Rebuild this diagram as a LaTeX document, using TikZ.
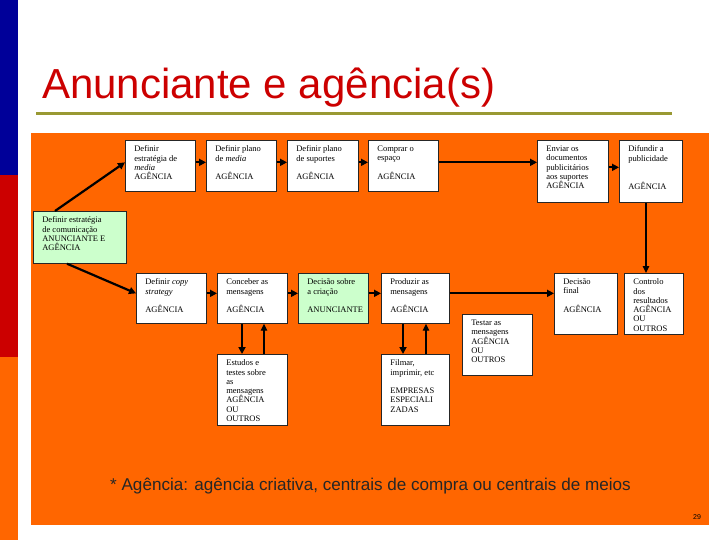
\documentclass[tikz,border=0pt]{standalone}
\usepackage{fontspec}
\setmainfont{Liberation Serif}
\newfontfamily\headfont{Liberation Sans}
\usepackage{tikz}
\usetikzlibrary{arrows.meta, positioning, calc}
\usepackage{xcolor}
\definecolor{slideblue}{RGB}{0,0,153}
\definecolor{slidered}{RGB}{204,0,0}
\definecolor{slideorange}{RGB}{255,102,0}
\definecolor{slideolive}{RGB}{153,153,51}
\definecolor{boxgreen}{RGB}{204,255,204}
\newcommand{\cell}[3]{\parbox[c][#2pt][t]{#1pt}{\raggedright\leftskip=9pt\fontsize{8.5}{9.3}\selectfont\vspace{5.5pt}#3}}

\begin{document}
\begin{tikzpicture}[x=1pt, y=-1pt,
    bx/.style={draw=black!85, fill=white, line width=0.7pt, inner sep=0pt, anchor=north west},
    gbx/.style={bx, fill=boxgreen},
    arr/.style={-{Triangle[length=7pt,width=7pt]}, line width=2.2pt},
    thinarr/.style={-{Triangle[length=7pt,width=6.5pt]}, line width=1.3pt}]
    \useasboundingbox (0,0) rectangle (720,540);
    \fill[white] (0,0) rectangle (720,540);
    \fill[slideblue] (0,0) rectangle (18,175);
    \fill[slidered] (0,175) rectangle (18,357);
    \fill[slideorange] (0,357) rectangle (18,540);
    \fill[slideolive] (36,112.5) rectangle (672,115.5);
    \fill[slideorange] (31,133) rectangle (709,525);

    \node[anchor=base west, inner sep=0pt, text=slidered, font=\headfont\fontsize{42}{42}\selectfont] (title) at (42,99) {Anunciante e agência(s)};

    % top row
    \node[gbx] (estcom) at (33,211) {\cell{93}{52}{Definir estratégia\\de comunicação\\ANUNCIANTE E\\AGÊNCIA}};
    \node[bx] (estmed) at (125,140) {\cell{70}{51}{Definir\\estratégia de\\\textit{media}\\AGÊNCIA}};
    \node[bx] (planmed) at (206,140) {\cell{70}{51}{Definir plano\\de \textit{media}\\[9.3pt]AGÊNCIA}};
    \node[bx] (plansup) at (287,140) {\cell{71}{51}{Definir plano\\de suportes\\[9.3pt]AGÊNCIA}};
    \node[bx] (compra) at (368,140) {\cell{70}{51}{Comprar o\\espaço\\[9.3pt]AGÊNCIA}};
    \node[bx] (enviar) at (537,140) {\cell{71}{62}{Enviar os\\documentos\\publicitários\\aos suportes\\AGÊNCIA}};
    \node[bx] (difund) at (619,140) {\cell{63}{62}{Difundir a\\publicidade\\[18.6pt]AGÊNCIA}};

    % second row
    \node[bx] (copy) at (136,273) {\cell{70}{50}{Definir \textit{copy}\\\textit{strategy}\\[9.3pt]AGÊNCIA}};
    \node[bx] (conceb) at (217,273) {\cell{70}{50}{Conceber as\\mensagens\\[9.3pt]AGÊNCIA}};
    \node[gbx] (decisao) at (298,273) {\cell{70}{50}{Decisão sobre\\a criação\\[9.3pt]ANUNCIANTE}};
    \node[bx] (produz) at (381,273) {\cell{68}{50}{Produzir as\\mensagens\\[9.3pt]AGÊNCIA}};
    \node[bx] (final) at (554,273) {\cell{63}{61}{Decisão\\final\\[9.3pt]AGÊNCIA}};
    \node[bx] (control) at (624,273) {\cell{59}{61}{Controlo\\dos\\resultados\\AGÊNCIA\\OU\\OUTROS}};
    \node[bx] (testar) at (462,314) {\cell{70}{61}{Testar as\\mensagens\\AGÊNCIA\\OU\\OUTROS}};

    % bottom row
    \node[bx] (estudos) at (217,354) {\cell{70}{71}{Estudos e\\testes sobre\\as\\mensagens\\AGÊNCIA\\OU\\OUTROS}};
    \node[bx] (filmar) at (381,354) {\cell{68}{71}{Filmar,\\imprimir, etc\\[9.3pt]EMPRESAS\\ESPECIALI\\ZADAS}};

    \draw[arr] ([xshift=22pt]estcom.north west) -- ([yshift=3.5pt]estmed.west);
    \draw[arr] ([xshift=34pt]estcom.south west) -- ([yshift=5pt]copy.west);
    \draw[arr] ([yshift=3.5pt]estmed.east) -- ([yshift=3.5pt]planmed.west);
    \draw[arr] ([yshift=3.5pt]planmed.east) -- ([yshift=3.5pt]plansup.west);
    \draw[arr] ([yshift=3.5pt]plansup.east) -- ([yshift=3.5pt]compra.west);
    \draw[arr] ([yshift=3.5pt]compra.east) -- ([yshift=3.5pt]compra.east -| enviar.west);
    \draw[arr] ([yshift=4pt]enviar.east) -- ([yshift=4pt]difund.west);
    \draw[thinarr] ([xshift=27pt]difund.south west) -- ([xshift=27pt]difund.south west |- control.north);

    \draw[arr] ([yshift=5pt]copy.east) -- ([yshift=5pt]conceb.west);
    \draw[arr] ([yshift=5pt]conceb.east) -- ([yshift=5pt]decisao.west);
    \draw[arr] ([yshift=5pt]decisao.east) -- ([yshift=5pt]produz.west);
    \draw[arr] ([yshift=5pt]produz.east) -- ([yshift=5pt]produz.east -| final.west);

    \draw[arr] ([xshift=25pt]conceb.south west) -- ([xshift=25pt]conceb.south west |- estudos.north);
    \draw[thinarr] ([xshift=47pt]estudos.north west) -- ([xshift=47pt]estudos.north west |- conceb.south);
    \draw[arr] ([xshift=22pt]produz.south west) -- ([xshift=22pt]produz.south west |- filmar.north);
    \draw[thinarr] ([xshift=45pt]filmar.north west) -- ([xshift=45pt]filmar.north west |- produz.south);

    \node[anchor=base west, inner sep=0pt, text=black!85, font=\headfont\fontsize{17.1}{17}\selectfont] (nota) at (110,490) {* Agência: agência criativa, centrais de compra ou centrais de meios};
    \node[inner sep=0pt, font=\headfont\fontsize{7}{7}\selectfont] (pagina) at (697,517) {29};
\end{tikzpicture}
\end{document}
